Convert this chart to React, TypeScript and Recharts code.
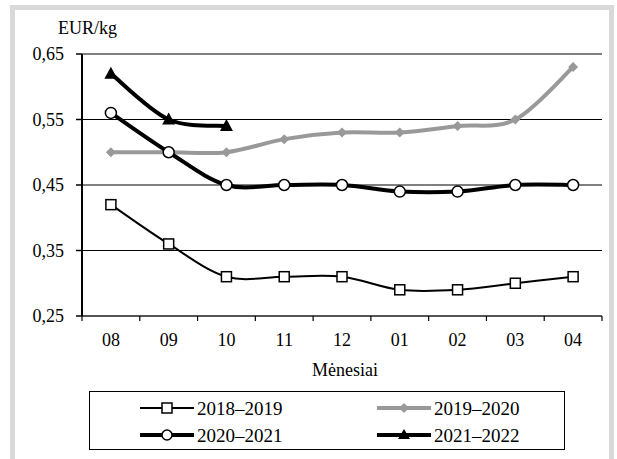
import React from 'react';
import {
  LineChart, Line, XAxis, YAxis, CartesianGrid, Legend,
} from 'recharts';

const months = ['08', '09', '10', '11', '12', '01', '02', '03', '04'];
const s2018 = [0.42, 0.36, 0.31, 0.31, 0.31, 0.29, 0.29, 0.30, 0.31];
const s2019 = [0.50, 0.50, 0.50, 0.52, 0.53, 0.53, 0.54, 0.55, 0.63];
const s2020 = [0.56, 0.50, 0.45, 0.45, 0.45, 0.44, 0.44, 0.45, 0.45];
const s2021: (number | null)[] = [0.62, 0.55, 0.54, null, null, null, null, null, null];
const yTicks = [0.25, 0.35, 0.45, 0.55, 0.65];
const seriesNames = ['2018–2019', '2019–2020', '2020–2021', '2021–2022'];

const data = months.map((m, i) => ({
  month: m,
  a: s2018[i],
  b: s2019[i],
  c: s2020[i],
  d: s2021[i],
}));

const FONT = "'Liberation Serif', 'Times New Roman', serif";
const W = 617;
const H = 459;
const MARGIN = { top: 54, right: 15, bottom: 73, left: 0 };
const YAXIS_W = 82;
const XAXIS_H = 70;
const PLOT_W = W - MARGIN.left - MARGIN.right - YAXIS_W;

// Catmull-Rom style smoothing (similar to Excel's smoothed lines)
const smoothCurve = (context: any) => {
  let pts: number[][] = [];
  return {
    areaStart() {},
    areaEnd() {},
    lineStart() { pts = []; },
    point(x: number, y: number) { pts.push([+x, +y]); },
    lineEnd() {
      if (!pts.length) return;
      context.moveTo(pts[0][0], pts[0][1]);
      if (pts.length === 1) { context.lineTo(pts[0][0], pts[0][1]); return; }
      for (let i = 0; i < pts.length - 1; i++) {
        const p0 = pts[i - 1] || pts[i];
        const p1 = pts[i];
        const p2 = pts[i + 1];
        const p3 = pts[i + 2] || pts[i + 1];
        const c1x = p1[0] + (p2[0] - p0[0]) / 6;
        const c1y = p1[1] + (p2[1] - p0[1]) / 6;
        const c2x = p2[0] - (p3[0] - p1[0]) / 6;
        const c2y = p2[1] - (p3[1] - p1[1]) / 6;
        context.bezierCurveTo(c1x, c1y, c2x, c2y, p2[0], p2[1]);
      }
    },
  };
};

const squareDot = (p: any) => (p.cy == null || p.value == null
  ? <g key={`sq-${p.index}`} />
  : <rect key={`sq-${p.index}`} x={p.cx - 5} y={p.cy - 5} width={10} height={10} fill="#fff" stroke="#000" strokeWidth={1.5} />);
const diamondDot = (p: any) => (p.cy == null || p.value == null
  ? <g key={`di-${p.index}`} />
  : <polygon key={`di-${p.index}`} points={`${p.cx},${p.cy - 5} ${p.cx + 5},${p.cy} ${p.cx},${p.cy + 5} ${p.cx - 5},${p.cy}`} fill="#999" />);
const circleDot = (p: any) => (p.cy == null || p.value == null
  ? <g key={`ci-${p.index}`} />
  : <circle key={`ci-${p.index}`} cx={p.cx} cy={p.cy} r={5.5} fill="#fff" stroke="#000" strokeWidth={1.5} />);
const triDot = (p: any) => (p.cy == null || p.value == null
  ? <g key={`tr-${p.index}`} />
  : <polygon key={`tr-${p.index}`} points={`${p.cx},${p.cy - 7} ${p.cx + 6.5},${p.cy + 5} ${p.cx - 6.5},${p.cy + 5}`} fill="#000" />);

const XTick = (props: any) => {
  const { x, y, payload, index } = props;
  const off = payload && typeof payload.offset === 'number' && payload.offset > 0
    ? payload.offset
    : PLOT_W / months.length / 2;
  const last = index === months.length - 1;
  return (
    <g>
      <line x1={x - off} y1={y} x2={x - off} y2={y + 5} stroke="#000" strokeWidth={1.2} />
      {last && <line x1={x + off} y1={y} x2={x + off} y2={y + 5} stroke="#000" strokeWidth={1.2} />}
      <text x={x} y={y + 30} textAnchor="middle" fontSize={18} fontFamily={FONT} fill="#000">
        {payload.value}
      </text>
    </g>
  );
};

const LegendBox = () => {
  const rows = [
    { y: 17, x: 51, name: seriesNames[0], kind: 'a' },
    { y: 17, x: 288, name: seriesNames[1], kind: 'b' },
    { y: 44, x: 51, name: seriesNames[2], kind: 'c' },
    { y: 44, x: 288, name: seriesNames[3], kind: 'd' },
  ];
  return (
    <svg width={476} height={59} style={{ display: 'block' }}>
      <rect x={0.5} y={0.5} width={475} height={58} fill="#fff" stroke="#000" strokeWidth={1} />
      {rows.map((r) => {
        const cx = r.x + 27;
        let stroke = '#000';
        let sw = 4;
        let marker: React.ReactNode = null;
        if (r.kind === 'a') {
          sw = 2;
          marker = <rect x={cx - 5} y={r.y - 5} width={10} height={10} fill="#fff" stroke="#000" strokeWidth={1.5} />;
        } else if (r.kind === 'b') {
          stroke = '#999';
          marker = <polygon points={`${cx},${r.y - 5} ${cx + 5},${r.y} ${cx},${r.y + 5} ${cx - 5},${r.y}`} fill="#999" />;
        } else if (r.kind === 'c') {
          marker = <circle cx={cx} cy={r.y} r={5} fill="#fff" stroke="#000" strokeWidth={1.5} />;
        } else {
          marker = <polygon points={`${cx},${r.y - 6} ${cx + 6},${r.y + 4} ${cx - 6},${r.y + 4}`} fill="#000" />;
        }
        return (
          <g key={r.name}>
            <line x1={r.x} y1={r.y} x2={r.x + 54} y2={r.y} stroke={stroke} strokeWidth={sw} />
            {marker}
            <text x={r.x + 57} y={r.y + 6.5} fontSize={19} fontFamily={FONT} fill="#000">{r.name}</text>
          </g>
        );
      })}
    </svg>
  );
};

export default function App() {
  return (
    <div style={{ position: 'absolute', left: 0, top: 0, width: W, height: H, overflow: 'hidden', background: '#fff' }}>
      <div
        style={{
          position: 'absolute', left: 10, top: 5, width: 604, height: 520,
          boxSizing: 'border-box', border: '5px solid #d9d9d9',
        }}
      />
      <div style={{ position: 'absolute', left: 0, top: 0 }}>
        <LineChart width={W} height={H} data={data} margin={MARGIN}>
          <CartesianGrid horizontal vertical={false} stroke="#000" strokeWidth={1} yAxisId="left" xAxisId="main" />
          <XAxis
            xAxisId="main"
            dataKey="month"
            scale="band"
            height={XAXIS_H}
            interval={0}
            tickSize={0}
            tickMargin={0}
            tickLine={false}
            axisLine={{ stroke: '#555', strokeWidth: 2 }}
            tick={<XTick />}
            label={(lp: any) => {
              const vb = lp.viewBox || {};
              return (
                <text x={(vb.x || 0) + (vb.width || 0) / 2 + 3} y={(vb.y || 0) + 60} textAnchor="middle" fontSize={18} fontFamily={FONT} fill="#000">
                  Mėnesiai
                </text>
              );
            }}
          />
          <XAxis
            xAxisId="top"
            orientation="top"
            dataKey="month"
            scale="band"
            height={0}
            tick={false}
            tickLine={false}
            axisLine={{ stroke: '#8c8c8c', strokeWidth: 2 }}
          />
          <YAxis
            yAxisId="left"
            width={YAXIS_W}
            domain={[0.25, 0.65]}
            ticks={yTicks}
            interval={0}
            tickSize={6}
            tickMargin={12}
            tickLine={{ stroke: '#000', strokeWidth: 1.5 }}
            axisLine={{ stroke: '#000', strokeWidth: 2 }}
            tick={{ fill: '#000', fontSize: 18, fontFamily: FONT }}
            tickFormatter={(v: number) => v.toFixed(2).replace('.', ',')}
            label={(lp: any) => {
              const vb = lp.viewBox || {};
              return (
                <text x={(vb.x || 0) + 58} y={(vb.y || 0) - 20} fontSize={18} fontFamily={FONT} fill="#000">
                  EUR/kg
                </text>
              );
            }}
          />
          <YAxis
            yAxisId="right"
            orientation="right"
            width={0}
            domain={[0.25, 0.65]}
            ticks={yTicks}
            tick={false}
            tickLine={false}
            axisLine={{ stroke: '#8c8c8c', strokeWidth: 2 }}
          />
          <Legend
            verticalAlign="middle"
            align="center"
            layout="horizontal"
            wrapperStyle={{ left: 89, top: 391, width: 476, height: 59 }}
            content={() => <LegendBox />}
          />
          <Line xAxisId="main" yAxisId="left" dataKey="a" name={seriesNames[0]} type={smoothCurve as any}
            stroke="#000" strokeWidth={2} dot={squareDot} activeDot={false} isAnimationActive={false} />
          <Line xAxisId="main" yAxisId="left" dataKey="b" name={seriesNames[1]} type={smoothCurve as any}
            stroke="#999" strokeWidth={4} dot={diamondDot} activeDot={false} isAnimationActive={false} />
          <Line xAxisId="main" yAxisId="left" dataKey="c" name={seriesNames[2]} type={smoothCurve as any}
            stroke="#000" strokeWidth={4} dot={circleDot} activeDot={false} isAnimationActive={false} />
          <Line xAxisId="main" yAxisId="left" dataKey="d" name={seriesNames[3]} type={smoothCurve as any}
            stroke="#000" strokeWidth={4} dot={triDot} activeDot={false} isAnimationActive={false} />
        </LineChart>
      </div>
    </div>
  );
}
